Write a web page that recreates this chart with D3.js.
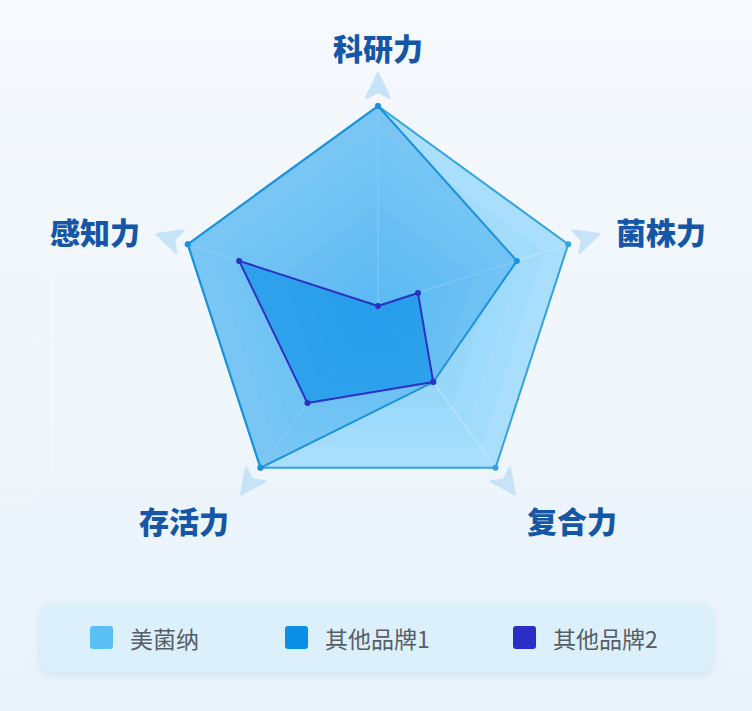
<!DOCTYPE html>
<html>
<head>
<meta charset="utf-8">
<script src="https://cdn.jsdelivr.net/npm/d3@7"></script>
<style>
  html, body { margin: 0; padding: 0; background: #f3f8fc; }
  svg { display: block; }
</style>
</head>
<body>
<svg id="chart" width="752" height="711"></svg>
<script>
// data
const indicators = ["科研力", "菌株力", "复合力", "存活力", "感知力"];
const maxValue = 100;
const seriesNames = ["美菌纳", "其他品牌1", "其他品牌2"];
const meijunna = [100, 100, 100, 100, 100];
const brand1 = [100, 73, 47, 100, 100];
const brand2 = [0, 21, 47, 60, 73];

const width = 752;
const height = 711;
const cx = 378;
const cy = 306;
const radius = 200;
const levels = 8;

const svg = d3.select("#chart");
const defs = svg.append("defs");

// background
const bg = defs.append("linearGradient").attr("id", "bg")
  .attr("x1", 0).attr("y1", 0).attr("x2", 0).attr("y2", 1);
bg.append("stop").attr("offset", "0%").attr("stop-color", "#f6f9fd");
bg.append("stop").attr("offset", "100%").attr("stop-color", "#e9f3fb");
svg.append("rect").attr("width", width).attr("height", height).attr("fill", "url(#bg)");

// faint decorative lines on the left
const deco = svg.append("g").attr("fill", "none").attr("stroke", "#ffffff")
  .attr("stroke-width", 1).attr("opacity", 0.55);
deco.append("path").attr("d", "M0,268 L40,268 L52,280 L52,470 L30,498 L0,498");
deco.append("path").attr("d", "M0,352 L22,352 L48,330");

const shadow = defs.append("filter").attr("id", "shadow")
  .attr("x", "-5%").attr("y", "-30%").attr("width", "110%").attr("height", "160%");
shadow.append("feDropShadow").attr("dx", 0).attr("dy", 3).attr("stdDeviation", 4)
  .attr("flood-color", "#9cc6e6").attr("flood-opacity", 0.35);

// scales
const r = d3.scaleLinear().domain([0, maxValue]).range([0, radius]);
const angle = d3.scaleLinear().domain([0, indicators.length]).range([0, 2 * Math.PI]);

const g = svg.append("g").attr("transform", `translate(${cx},${cy})`);

const radial = d3.lineRadial()
  .angle((d, i) => angle(i))
  .radius(d => r(d))
  .curve(d3.curveLinearClosed);

// split areas, outer to inner
const bandColor = d3.interpolateRgb("#d3effd", "#8ed2f8");
d3.range(levels, 0, -1).forEach(k => {
  const v = maxValue * k / levels;
  g.append("path")
    .attr("d", radial(indicators.map(() => v)))
    .attr("fill", bandColor(1 - k / levels));
});

// axis lines
indicators.forEach((name, i) => {
  const a = angle(i);
  g.append("line")
    .attr("x1", 0).attr("y1", 0)
    .attr("x2", r(maxValue) * Math.sin(a))
    .attr("y2", -r(maxValue) * Math.cos(a))
    .attr("stroke", "#ffffff").attr("stroke-opacity", 0.7).attr("stroke-width", 1.2);
});

// arrows at the end of each axis
indicators.forEach((name, i) => {
  const deg = angle(i) * 180 / Math.PI;
  g.append("path")
    .attr("d", "M0,-13 L12,12 L0,6 L-12,12 Z")
    .attr("transform", `rotate(${deg}) translate(0,${-(radius + 20)})`)
    .attr("fill", "#c6e3f8")
    .attr("stroke", "#c6e3f8").attr("stroke-width", 2).attr("stroke-linejoin", "round");
});

// series
const series = [
  { values: meijunna, fill: "#5bc0f8", fillOpacity: 0.35, stroke: "#32a3de" },
  { values: brand1, fill: "#0a8ee6", fillOpacity: 0.3, stroke: "#1b92da" },
  { values: brand2, fill: "#0a8ee6", fillOpacity: 0.64, stroke: "#2a32c2" }
];

series.forEach(s => {
  g.append("path")
    .attr("d", radial(s.values))
    .attr("fill", s.fill).attr("fill-opacity", s.fillOpacity)
    .attr("stroke", s.stroke).attr("stroke-width", 2).attr("stroke-linejoin", "round");
  g.selectAll(null).data(s.values).join("circle")
    .attr("cx", (d, i) => r(d) * Math.sin(angle(i)))
    .attr("cy", (d, i) => -r(d) * Math.cos(angle(i)))
    .attr("r", 3)
    .attr("fill", s.stroke);
});

// indicator names
const labelR = 245;
indicators.forEach((name, i) => {
  const a = angle(i);
  const s = Math.sin(a), c = Math.cos(a);
  let x = labelR * s, y = -labelR * c;
  let anchor = "middle";
  if (s > 0.1) { anchor = "start"; x += 5; }
  if (s < -0.1) { anchor = "end"; x -= 5; }
  if (c > 0.5) y -= 15;
  if (c < -0.5) y += 15;
  g.append("text")
    .attr("x", x).attr("y", y + 1)
    .attr("text-anchor", anchor)
    .attr("dominant-baseline", "central")
    .attr("font-family", "'Noto Sans CJK SC', 'Noto Sans', sans-serif")
    .attr("font-weight", 900)
    .attr("font-size", 30)
    .attr("fill", "#1656a7")
    .text(name);
});

// legend
const legendColors = ["#5bc0f8", "#0a8ee6", "#2a2ec6"];
const legendX = [90, 285, 513];
svg.append("rect")
  .attr("x", 40).attr("y", 603).attr("width", 673).attr("height", 69)
  .attr("rx", 12)
  .attr("fill", "#dcf0fc")
  .attr("filter", "url(#shadow)");

const legend = svg.append("g");
seriesNames.forEach((name, i) => {
  legend.append("rect")
    .attr("x", legendX[i]).attr("y", 626)
    .attr("width", 23).attr("height", 23).attr("rx", 3)
    .attr("fill", legendColors[i]);
  legend.append("text")
    .attr("x", legendX[i] + 40).attr("y", 638)
    .attr("dominant-baseline", "central")
    .attr("font-family", "'Noto Sans CJK SC', 'Noto Sans', sans-serif")
    .attr("font-size", 23)
    .attr("fill", "#575d65")
    .text(name);
});
</script>
</body>
</html>
